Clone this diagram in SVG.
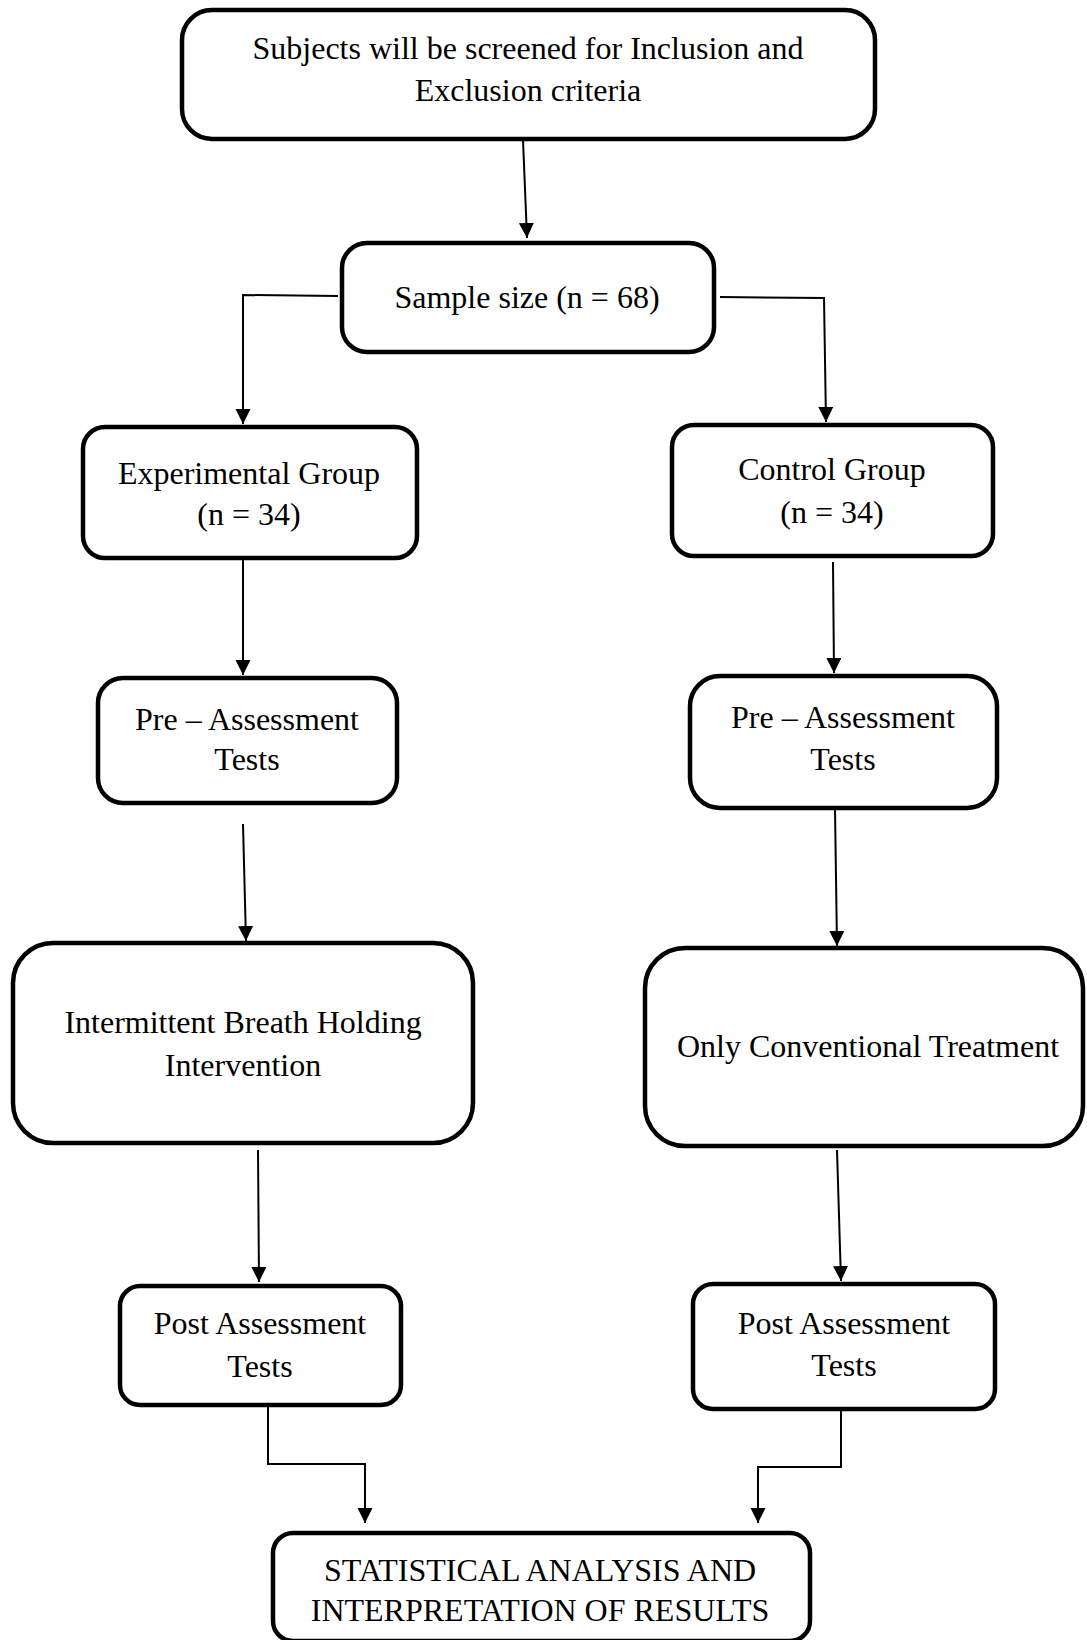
<svg xmlns="http://www.w3.org/2000/svg" width="1087" height="1640" viewBox="0 0 1087 1640">
<defs>
<style>
.node rect{fill:#fff;stroke:#000;stroke-width:4.5}
.node text{font-family:"Liberation Serif","Times New Roman",serif;font-size:32px;fill:#000;text-anchor:middle}
#connectors path{fill:none;stroke:#000;stroke-width:2;marker-end:url(#arrow)}
</style>
<marker id="arrow" markerUnits="userSpaceOnUse" markerWidth="16" markerHeight="16" refX="15" refY="7.5" orient="auto">
<path d="M0,0 L15,7.5 L0,15 Z" fill="#000"/>
</marker>
</defs>
<rect width="1087" height="1640" fill="#fff"/>
<g id="connectors">
<path d="M523,140 L527,238"/>
<path d="M338,296 L243,295 L243,424"/>
<path d="M720,297 L824,298 L826,422"/>
<path d="M243,560 L243,675"/>
<path d="M833,562 L834,673"/>
<path d="M243,824 L246,941"/>
<path d="M835,809 L837,946"/>
<path d="M258,1150 L259,1282"/>
<path d="M837,1150 L841,1281"/>
<path d="M268,1407 L268,1464 L365,1464 L365,1523"/>
<path d="M841,1411 L841,1467 L758,1467 L758,1523"/>
</g>
<g id="n-screen" class="node">
<rect x="182" y="10" width="693" height="129" rx="30"/>
<text x="528" y="59">Subjects will be screened for Inclusion and</text>
<text x="528" y="101">Exclusion criteria</text>
</g>
<g id="n-sample" class="node">
<rect x="342" y="243" width="372" height="109" rx="25"/>
<text x="527" y="308">Sample size (n = 68)</text>
</g>
<g id="n-exp" class="node">
<rect x="83" y="427" width="334" height="131" rx="22"/>
<text x="249" y="484">Experimental Group</text>
<text x="249" y="525">(n = 34)</text>
</g>
<g id="n-control" class="node">
<rect x="672" y="425" width="321" height="131" rx="22"/>
<text x="832" y="480">Control Group</text>
<text x="832" y="523">(n = 34)</text>
</g>
<g id="n-pre-left" class="node">
<rect x="98" y="678" width="299" height="125" rx="25"/>
<text x="247" y="730">Pre – Assessment</text>
<text x="247" y="770">Tests</text>
</g>
<g id="n-pre-right" class="node">
<rect x="690" y="676" width="307" height="132" rx="30"/>
<text x="843" y="728">Pre – Assessment</text>
<text x="843" y="770">Tests</text>
</g>
<g id="n-ibh" class="node">
<rect x="13" y="943" width="460" height="200" rx="40"/>
<text x="243" y="1033">Intermittent Breath Holding</text>
<text x="243" y="1076">Intervention</text>
</g>
<g id="n-conv" class="node">
<rect x="645" y="948" width="438" height="198" rx="40"/>
<text x="868" y="1057">Only Conventional Treatment</text>
</g>
<g id="n-post-left" class="node">
<rect x="120" y="1286" width="281" height="119" rx="20"/>
<text x="260" y="1334">Post Assessment</text>
<text x="260" y="1377">Tests</text>
</g>
<g id="n-post-right" class="node">
<rect x="693" y="1284" width="302" height="125" rx="20"/>
<text x="844" y="1334">Post Assessment</text>
<text x="844" y="1376">Tests</text>
</g>
<g id="n-stat" class="node">
<rect x="273" y="1533" width="537" height="108" rx="20"/>
<text x="540" y="1581">STATISTICAL ANALYSIS AND</text>
<text x="540" y="1621">INTERPRETATION OF RESULTS</text>
</g>
</svg>
